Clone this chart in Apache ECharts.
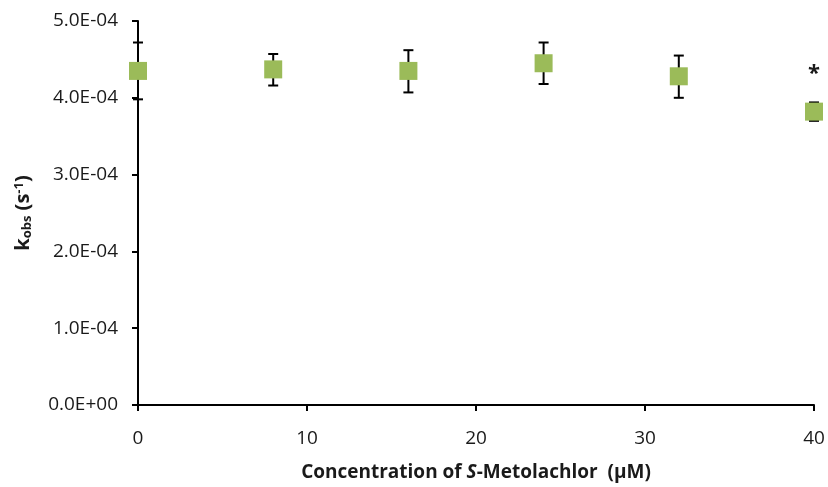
<!DOCTYPE html>
<html><head><meta charset="utf-8">
<script src="https://cdn.jsdelivr.net/npm/echarts@6/dist/echarts.min.js"></script>
<style>html,body{margin:0;padding:0;background:#fff}#c{width:828px;height:487px}</style>
</head><body><div id="c"></div>
<script>
const concentrations = [0, 8, 16, 24, 32, 40];
const kobs = [4.35e-4, 4.37e-4, 4.35e-4, 4.45e-4, 4.28e-4, 3.82e-4];
const errLow = [3.98e-4, 4.16e-4, 4.07e-4, 4.18e-4, 4.00e-4, 3.70e-4];
const errHigh = [4.72e-4, 4.57e-4, 4.62e-4, 4.72e-4, 4.55e-4, 3.94e-4];
const significant = [false, false, false, false, false, true];
const yTicks = [0, 1e-4, 2e-4, 3e-4, 4e-4, 5e-4];

const font = "'Open Sans', 'Noto Sans', sans-serif";
const chart = echarts.init(document.getElementById('c'));
const errData = concentrations.map((x, i) => [x, errLow[i], errHigh[i]]);
chart.setOption({
  animation: false,
  grid: {left: 138, right: 14, top: 21, bottom: 81},
  xAxis: {
    type: 'value', min: 0, max: 40, interval: 10,
    axisLine: {lineStyle: {color: '#000', width: 2}},
    axisTick: {show: true, inside: false, length: 6, lineStyle: {color: '#000', width: 2}},
    splitLine: {show: false},
    axisLabel: {color: '#1a1a1a', fontSize: 19, fontFamily: font, margin: 24},
    name: '{b|Concentration of }{bi|S}{b|-Metolachlor  (µM)}',
    nameLocation: 'middle', nameGap: 58,
    nameTextStyle: {rich: {
      b: {fontWeight: 'bold', fontSize: 19, fontFamily: font, color: '#1a1a1a'},
      bi: {fontWeight: 'bold', fontStyle: 'italic', fontSize: 19, fontFamily: font, color: '#1a1a1a'}
    }}
  },
  yAxis: {
    type: 'value', min: 0, max: 5e-4, interval: 1e-4,
    axisLine: {show: true, lineStyle: {color: '#000', width: 2}},
    axisTick: {show: true, inside: false, length: 6, lineStyle: {color: '#000', width: 2}},
    splitLine: {show: false},
    axisLabel: {color: '#1a1a1a', fontSize: 19, fontFamily: font, margin: 20,
      formatter: v => {
        const idx = yTicks.findIndex(t => Math.abs(t - v) < 1e-9);
        const t = idx >= 0 ? yTicks[idx] : v;
        if (t === 0) return '0.0E+00';
        return (t * 1e4).toFixed(1) + 'E-04';
      }},
    name: '{b|k}{sub|obs}{b| (s}{sup|-1}{b|)}',
    nameLocation: 'middle', nameGap: 104, nameRotate: 90,
    nameTextStyle: {rich: {
      b: {fontWeight: 'bold', fontSize: 20, fontFamily: font, color: '#1a1a1a'},
      sub: {fontWeight: 'bold', fontSize: 13, fontFamily: font, color: '#1a1a1a', verticalAlign: 'bottom', padding: [8, 0, 0, 0]},
      sup: {fontWeight: 'bold', fontSize: 13, fontFamily: font, color: '#1a1a1a', verticalAlign: 'top', padding: [0, 0, 8, 0]}
    }}
  },
  series: [
    {
      type: 'custom',
      data: errData,
      z: 1,
      renderItem: (params, api) => {
        const x = api.value(0);
        const lo = api.coord([x, api.value(1)]);
        const hi = api.coord([x, api.value(2)]);
        const hw = 5;
        const style = {stroke: '#000', lineWidth: 2};
        return {type: 'group', children: [
          {type: 'line', shape: {x1: lo[0], y1: lo[1], x2: hi[0], y2: hi[1]}, style},
          {type: 'line', shape: {x1: lo[0] - hw, y1: lo[1], x2: lo[0] + hw, y2: lo[1]}, style},
          {type: 'line', shape: {x1: hi[0] - hw, y1: hi[1], x2: hi[0] + hw, y2: hi[1]}, style}
        ]};
      }
    },
    {
      type: 'scatter',
      z: 3,
      symbol: 'rect',
      symbolSize: 18,
      itemStyle: {color: '#9BBB59', opacity: 1},
      emphasis: {disabled: true},
      data: concentrations.map((x, i) => ({
        value: [x, kobs[i]],
        label: {show: significant[i], formatter: '*', position: 'top', distance: 18,
          fontSize: 22, fontWeight: 'bold', color: '#1a1a1a', fontFamily: font}
      }))
    }
  ]
});
</script></body></html>
